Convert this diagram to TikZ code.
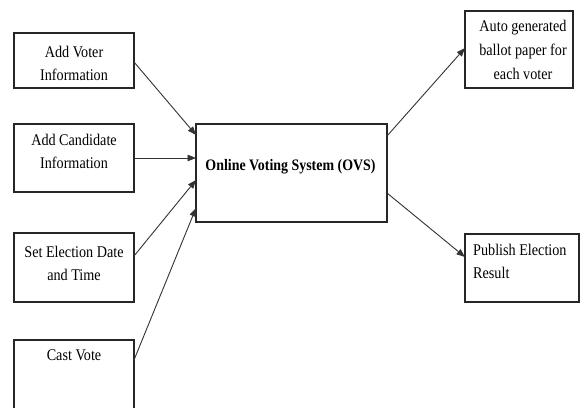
\documentclass[tikz,border=0pt]{standalone}
\usepackage{fontspec}
\setmainfont[FakeStretch=0.87]{Liberation Serif}
\usetikzlibrary{arrows.meta,calc}
\begin{document}
\begin{tikzpicture}[x=1pt,y=-1pt,
  box/.style={draw=black!85,line width=1.1pt,rectangle,inner sep=0pt,outer sep=0pt,anchor=north west},
  txt/.style={font=\fontsize{16.3}{23}\selectfont,align=center,inner sep=0pt,anchor=base},
  conn/.style={draw=black!80,line width=0.9pt,-{Triangle[length=8.5pt,width=6.5pt]}}]
\useasboundingbox[fill=white] (0,0) rectangle (580,407);
% input boxes
\node[box,minimum width=120pt,minimum height=55pt] (voter) at (14,33) {};
\node[box,minimum width=120pt,minimum height=68pt] (cand) at (14,124) {};
\node[box,minimum width=120pt,minimum height=69pt] (date) at (14,233) {};
\node[inner sep=0pt,outer sep=0pt,anchor=north west,minimum width=120pt,minimum height=70pt] (cast) at (14,340) {};
\draw[draw=black!85,line width=1.1pt] (cast.south west) -- (cast.north west) -- (cast.north east) -- (cast.south east);
% central box
\node[box,minimum width=191pt,minimum height=98pt] (ovs) at (196,124) {};
% output boxes
\node[box,minimum width=108pt,minimum height=77pt] (ballot) at (465,11) {};
\node[box,minimum width=114pt,minimum height=68pt] (pub) at (465,234) {};
% texts
\node[txt] (tvoter1) at ($(voter.north)+(0,24)$) {Add Voter};
\node[txt] (tvoter2) at ($(voter.north)+(0,47)$) {Information};
\node[txt] (tcand1) at ($(cand.north)+(0,21)$) {Add Candidate};
\node[txt] (tcand2) at ($(cand.north)+(0,44)$) {Information};
\node[txt] (tdate1) at ($(date.north)+(0,24)$) {Set Election Date};
\node[txt] (tdate2) at ($(date.north)+(0,47)$) {and Time};
\node[txt] (tcast) at ($(cast.north)+(0,20)$) {Cast Vote};
\node[txt,font=\fontsize{16}{23}\bfseries] (tovs) at ($(ovs.center)+(-1,-3)$) {Online Voting System (OVS)};
\node[txt] (tb1) at ($(ballot.north)+(4,20)$) {Auto generated};
\node[txt] (tb2) at ($(ballot.north)+(4,44)$) {ballot paper for};
\node[txt] (tb3) at ($(ballot.north)+(4,68)$) {each voter};
\node[txt,anchor=base west] (tp1) at ($(pub.north west)+(8,21)$) {Publish Election};
\node[txt,anchor=base west] (tp2) at ($(pub.north west)+(8,44)$) {Result};
% connectors
\draw[conn] ($(voter.north east)+(0,29)$) -- ($(ovs.north west)+(0,11)$);
\draw[conn] (cand.east) -- (cand.east -| ovs.west);
\draw[conn] ($(date.north east)+(0,23)$) -- ($(ovs.north west)+(0,56)$);
\draw[conn] ($(cast.north east)+(0,20)$) -- ($(ovs.north west)+(0,84)$);
\draw[conn] ($(ovs.north east)+(0,12)$) -- ($(ballot.north west)+(0,37)$);
\draw[conn] ($(ovs.north east)+(0,69)$) -- ($(pub.north west)+(0,23)$);
\end{tikzpicture}
\end{document}
